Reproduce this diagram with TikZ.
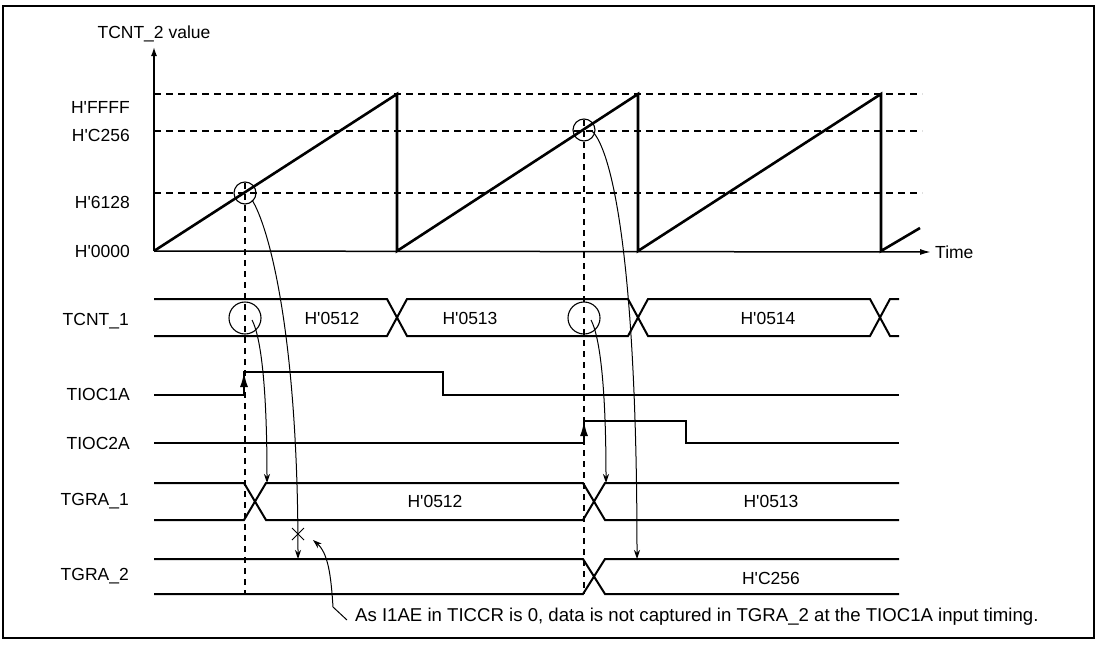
\documentclass[tikz,border=0pt]{standalone}
\usepackage{fontspec}
\setmainfont{Liberation Sans}[Ligatures=TeXOff]
\usetikzlibrary{arrows.meta,positioning,calc}
\tikzset{
  sig/.style={line width=2pt, line join=miter},
  saw/.style={line width=2.6pt, line join=miter},
  axis/.style={line width=1.5pt},
  guide/.style={line width=1.1pt, dash pattern=on 7pt off 5pt},
  vguide/.style={line width=1.1pt, dash pattern=on 6pt off 5pt},
  ring/.style={circle, draw, line width=1.1pt, inner sep=0pt},
  capt/.style={-{Stealth[length=9pt,width=6pt]}, line width=1pt},
  edgearrow/.style={-{Latex[length=15pt,width=8pt]}, line width=2pt},
  lbl/.style={font=\fontsize{17.5}{20}\selectfont, inner sep=0pt},
  signame/.style={lbl, anchor=east}
}

\begin{document}
\begin{tikzpicture}[x=1pt, y=-1pt]
\useasboundingbox (0,0) rectangle (1100,645);
\draw[line width=2pt] (3,6) rectangle (1094,638);

\node[lbl] (ylab) at (154,34) {TCNT\_2 value};
\node[lbl, anchor=west] (time) at (935,252) {Time};
\coordinate (orig) at (154,251);
\coordinate (ytop) at (154,47);
\draw[axis, -{Latex[length=9pt,width=6pt]}] (orig) -- (ytop);
\draw[axis, -{Latex[length=11pt,width=6pt]}] (orig) -- ($(time.west)+(-4,0)$);

\node[signame] (vFFFF) at (130,107) {H'FFFF};
\node[signame] (vC256) at (130,135) {H'C256};
\node[signame] (v6128) at (130,202) {H'6128};
\node[signame] (v0000) at (130,251) {H'0000};
\foreach \y in {94,131,193}
  \draw[guide] (154,\y) -- (922,\y);

\draw[saw] (orig) -- (397,94) -- (397,251) -- (638,94) -- (638,251) -- (881,94) -- (881,251) -- (920,228);

\node[ring, minimum size=22pt] (r1) at (245,193) {};
\node[ring, minimum size=22pt] (r2) at (584,130) {};
\node[ring, minimum size=32pt] (r3) at (245,318) {};
\node[ring, minimum size=32pt] (r4) at (584,318) {};
\draw[vguide] (245,183) -- (245,594);
\draw[vguide] (584,120) -- (584,594);

\node[signame] (nTCNT1) at (129,321) {TCNT\_1};
\node[signame] (nTIOC1A) at (130,394) {TIOC1A};
\node[signame] (nTIOC2A) at (130,443) {TIOC2A};
\node[signame] (nTGRA1) at (129,501) {TGRA\_1};
\node[signame] (nTGRA2) at (129,576) {TGRA\_2};

\draw[sig] (154,299) -- (387,299) -- (407,336) -- (628,336) -- (648,299) -- (870,299) -- (890,336) -- (899,336);
\draw[sig] (154,336) -- (387,336) -- (407,299) -- (628,299) -- (648,336) -- (870,336) -- (890,299) -- (899,299);
\node[lbl] (t0512) at (332,318) {H'0512};
\node[lbl] (t0513) at (470,318) {H'0513};
\node[lbl] (t0514) at (768,318) {H'0514};

\draw[sig] (154,395) -- (244,395) -- (244,372) -- (443,372) -- (443,395) -- (899,395);
\draw[edgearrow] (244,395) -- (244,372);
\draw[sig] (154,443) -- (584,443) -- (584,421) -- (686,421) -- (686,443) -- (899,443);
\draw[edgearrow] (584,443) -- (584,421);

\draw[sig] (154,483) -- (244,483) -- (266,520) -- (583,520) -- (605,483) -- (899,483);
\draw[sig] (154,520) -- (244,520) -- (266,483) -- (583,483) -- (605,520) -- (899,520);
\node[lbl] (g0512) at (435,501) {H'0512};
\node[lbl] (g0513) at (771,501) {H'0513};

\draw[sig] (154,559) -- (583,559) -- (605,594) -- (899,594);
\draw[sig] (154,594) -- (583,594) -- (605,559) -- (899,559);
\node[lbl] (gC256) at (771,578) {H'C256};

\coordinate (hit1) at (267,483);
\coordinate (hit2) at (298,559);
\coordinate (hit3) at (606,483);
\coordinate (hit4) at (637,559);
\draw[capt] ($(r3.center)+(7,2)$) .. controls (260,335) and (267,380) .. (hit1);
\draw[capt] ($(r1.center)+(7,7)$) .. controls (268,225) and (298,330) .. (hit2);
\draw[capt] ($(r4.center)+(7,2)$) .. controls (599,335) and (606,380) .. (hit3);
\draw[capt] ($(r2.center)+(8,1)$) .. controls (612,150) and (637,260) .. (hit4);

\coordinate (nocap) at (298,534);
\draw[line width=1pt] ($(nocap)+(-6,-6)$) -- ($(nocap)+(6,6)$) ($(nocap)+(-6,6)$) -- ($(nocap)+(6,-6)$);

\node[lbl, anchor=west, font=\fontsize{18.6}{21}\selectfont] (note) at (355,617) {As I1AE in TICCR is 0, data is not captured in TGRA\_2 at the TIOC1A input timing.};
\coordinate (miss) at (313,540);
\draw[capt] ($(note.west)+(-8,3)$) -- (333,607) .. controls (331,575) and (328,553) .. (miss);
\end{tikzpicture}
\end{document}
